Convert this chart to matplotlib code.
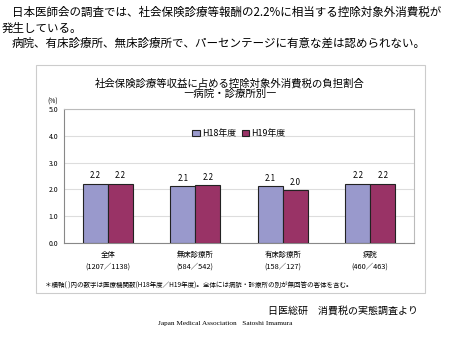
import matplotlib
matplotlib.use("Agg")
import matplotlib.pyplot as plt
from matplotlib.patches import Rectangle
import numpy as np

plt.rcParams['font.family'] = ['Noto Sans CJK JP', 'DejaVu Sans']

categories = ["全体", "無床診療所", "有床診療所", "病院"]
counts = ["(1207／1138)", "(584／542)", "(158／127)", "(460／463)"]
h18 = [2.22, 2.12, 2.12, 2.22]
h19 = [2.22, 2.16, 1.96, 2.22]
series_names = ["H18年度", "H19年度"]
yticks = [0.0, 1.0, 2.0, 3.0, 4.0, 5.0]

W, H = 450, 347
fig = plt.figure(figsize=(W / 100, H / 100), dpi=100)
fig.patch.set_facecolor("white")

def fx(px):
    return px / W

def fy(py):
    return 1 - py / H

# header text
fig.text(fx(12), fy(12), "日本医師会の調査では、社会保険診療等報酬の2.2%に相当する控除対象外消費税が",
         fontsize=8.3, va="center", ha="left")
fig.text(fx(2), fy(28), "発生している。", fontsize=8.3, va="center", ha="left")
fig.text(fx(12), fy(43), "病院、有床診療所、無床診療所で、パーセンテージに有意な差は認められない。",
         fontsize=8.3, va="center", ha="left")

# outer chart box
box = Rectangle((fx(36), fy(293)), fx(425) - fx(36), fy(65) - fy(293),
                transform=fig.transFigure, facecolor="white", edgecolor="#cccccc",
                linewidth=0.8, zorder=-5)
fig.patches.append(box)

fig.text(fx(230), fy(83), "社会保険診療等収益に占める控除対象外消費税の負担割合",
         fontsize=7.5, va="center", ha="center")
fig.text(fx(230), fy(94), "―病院・診療所別―", fontsize=7.5, va="center", ha="center")
fig.text(fx(53), fy(102), "(%)", fontsize=4.8, va="center", ha="center")

ax = fig.add_axes([fx(64), fy(243), fx(414) - fx(64), fy(109) - fy(243)])
ax.set_zorder(2)
x = np.arange(len(categories))
bw = 0.286
c18 = "#9999cc"
c19 = "#993366"
b1 = ax.bar(x - bw / 2, h18, bw, color=c18, edgecolor="#222222", linewidth=0.8,
            label=series_names[0], zorder=3)
b2 = ax.bar(x + bw / 2, h19, bw, color=c19, edgecolor="#222222", linewidth=0.8,
            label=series_names[1], zorder=3)
for rects, vals in ((b1, h18), (b2, h19)):
    for r, v in zip(rects, vals):
        ax.text(r.get_x() + r.get_width() / 2, v + 0.12, f"{v:.1f}",
                ha="center", va="bottom", fontsize=5.7)

ax.set_xlim(-0.5, len(categories) - 0.5)
ax.set_ylim(0, 5)
ax.set_yticks(yticks)
ax.set_yticklabels([f"{t:.1f}" for t in yticks], fontsize=5.0)
ax.set_xticks(x)
ax.set_xticklabels([f"{c}\n{n}" for c, n in zip(categories, counts)], fontsize=5.3,
                   linespacing=1.6)
ax.tick_params(axis="both", length=0, pad=4)
ax.tick_params(axis="x", pad=6)
ax.grid(axis="y", color="#dddddd", linewidth=0.8, zorder=0)
for s in ax.spines.values():
    s.set_color("#bbbbbb")
    s.set_linewidth(0.8)
ax.spines["left"].set_color("#888888")
ax.spines["bottom"].set_color("#888888")

leg = ax.legend(loc="upper center", bbox_to_anchor=(0.5, 0.91), ncol=2, frameon=False,
                fontsize=6.4, handlelength=0.8, handleheight=0.8, handletextpad=0.3,
                columnspacing=0.6)

fig.text(fx(45), fy(286), "＊横軸( )内の数字は医療機関数(H18年度／H19年度)。全体には病院・診療所の別が無回答の客体を含む。",
         fontsize=4.7, va="center", ha="left")

fig.text(fx(418), fy(311), "日医総研　消費税の実態調査より", fontsize=7.2, va="center", ha="right")
fig.text(fx(225), fy(323), "Japan Medical Association   Satoshi Imamura",
         fontsize=5.2, va="center", ha="center", family=["Liberation Serif"])

fig.savefig("out.png", dpi=100, facecolor="white")
